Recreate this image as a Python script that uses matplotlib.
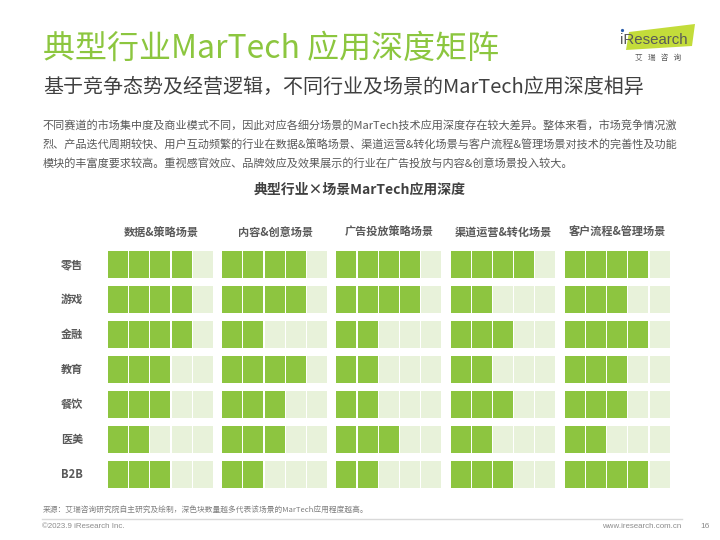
import matplotlib
matplotlib.use("Agg")
import matplotlib.pyplot as plt
from matplotlib.patches import Rectangle, Polygon, Circle

plt.rcParams['font.family'] = ['Noto Sans CJK SC', 'DejaVu Sans']

# ---- data ----
industries = ["零售", "游戏", "金融", "教育", "餐饮", "医美", "B2B"]
scenarios = ["数据&策略场景", "内容&创意场景", "广告投放策略场景", "渠道运营&转化场景", "客户流程&管理场景"]
data_strategy = [4, 4, 4, 3, 3, 2, 3]
content_creative = [4, 4, 2, 4, 3, 3, 2]
ad_strategy = [4, 4, 2, 2, 2, 3, 2]
channel_conversion = [4, 2, 3, 2, 3, 2, 3]
customer_management = [4, 3, 4, 3, 3, 2, 4]
max_level = 5

series = [data_strategy, content_creative, ad_strategy, channel_conversion, customer_management]

# ---- styles ----
GREEN = "#8DC540"
LIGHT = "#E8F2DA"
TITLE_GREEN = "#8CC63F"

fig = plt.figure(figsize=(7.2, 5.4), dpi=100)
ax = fig.add_axes([0, 0, 1, 1])
ax.set_xlim(0, 720)
ax.set_ylim(540, 0)
ax.axis('off')

# titles
ax.text(43, 49, "典型行业MarTech 应用深度矩阵", fontsize=23, color=TITLE_GREEN,
        va='center', ha='left')
ax.text(43, 87, "基于竞争态势及经营逻辑，不同行业及场景的MarTech应用深度相异", fontsize=14.4,
        color="#404040", va='center', ha='left')
body = ["不同赛道的市场集中度及商业模式不同，因此对应各细分场景的MarTech技术应用深度存在较大差异。整体来看，市场竞争情况激",
        "烈、产品迭代周期较快、用户互动频繁的行业在数据&策略场景、渠道运营&转化场景与客户流程&管理场景对技术的完善性及功能",
        "模块的丰富度要求较高。重视感官效应、品牌效应及效果展示的行业在广告投放与内容&创意场景投入较大。"]
for i, line in enumerate(body):
    ax.text(43, 125 + i * 19.3, line, fontsize=8.0, color="#595959", va='center', ha='left')

ax.text(360, 190, "典型行业×场景MarTech应用深度", fontsize=10, fontweight='bold',
        color="#404040", va='center', ha='center')

# grid layout
gx0, gpitch, gwidth = 108, 114.2, 106
ry0, rpitch, rheight = 251, 35, 27
cpitch = gwidth / max_level
cgap = 1.2

for g, (name, vals) in enumerate(zip(scenarios, series)):
    gx = gx0 + g * gpitch
    ax.text(gx + gwidth / 2, 232, name, fontsize=8, fontweight='bold', color="#595959",
            va='center', ha='center')
    for r, v in enumerate(vals):
        y = ry0 + r * rpitch
        for c in range(max_level):
            color = GREEN if c < v else LIGHT
            ax.add_patch(Rectangle((gx + c * cpitch, y), cpitch - cgap, rheight,
                                   facecolor=color, edgecolor='none'))

for r, name in enumerate(industries):
    ax.text(72, ry0 + r * rpitch + rheight / 2, name, fontsize=8, fontweight='bold',
            color="#595959", va='center', ha='center')

# logo
ax.add_patch(Polygon([(629, 32), (695, 24), (692, 46), (626, 50)], closed=True,
                     facecolor="#C3DC3A", edgecolor='none'))
ax.add_patch(Circle((622.5, 30.5), 1.6, facecolor="#2A5CAA", edgecolor='none'))
ax.text(620, 40, "iResearch", fontsize=10.8, color="#595959", va='center', ha='left',
        family='Liberation Sans')
ax.text(658, 58, "艾   瑞   咨   询", fontsize=5.5, color="#595959", va='center', ha='center')

# footer
ax.text(43, 511, "来源：艾瑞咨询研究院自主研究及绘制，深色块数量越多代表该场景的MarTech应用程度越高。",
        fontsize=5.55, color="#7F7F7F", va='center', ha='left')
ax.plot([42, 682], [518.7, 518.7], color="#D9D9D9", lw=1)
ax.text(42, 527, "©2023.9 iResearch Inc.", fontsize=5.7, color="#8C8C8C", va='center',
        ha='left', family='Liberation Sans')
ax.text(681, 527, "www.iresearch.com.cn", fontsize=5.7, color="#8C8C8C", va='center',
        ha='right', family='Liberation Sans')
ax.text(705, 527, "16", fontsize=6, color="#8C8C8C", va='center', ha='center',
        family='Liberation Sans')

fig.savefig("out.png", dpi=100)
